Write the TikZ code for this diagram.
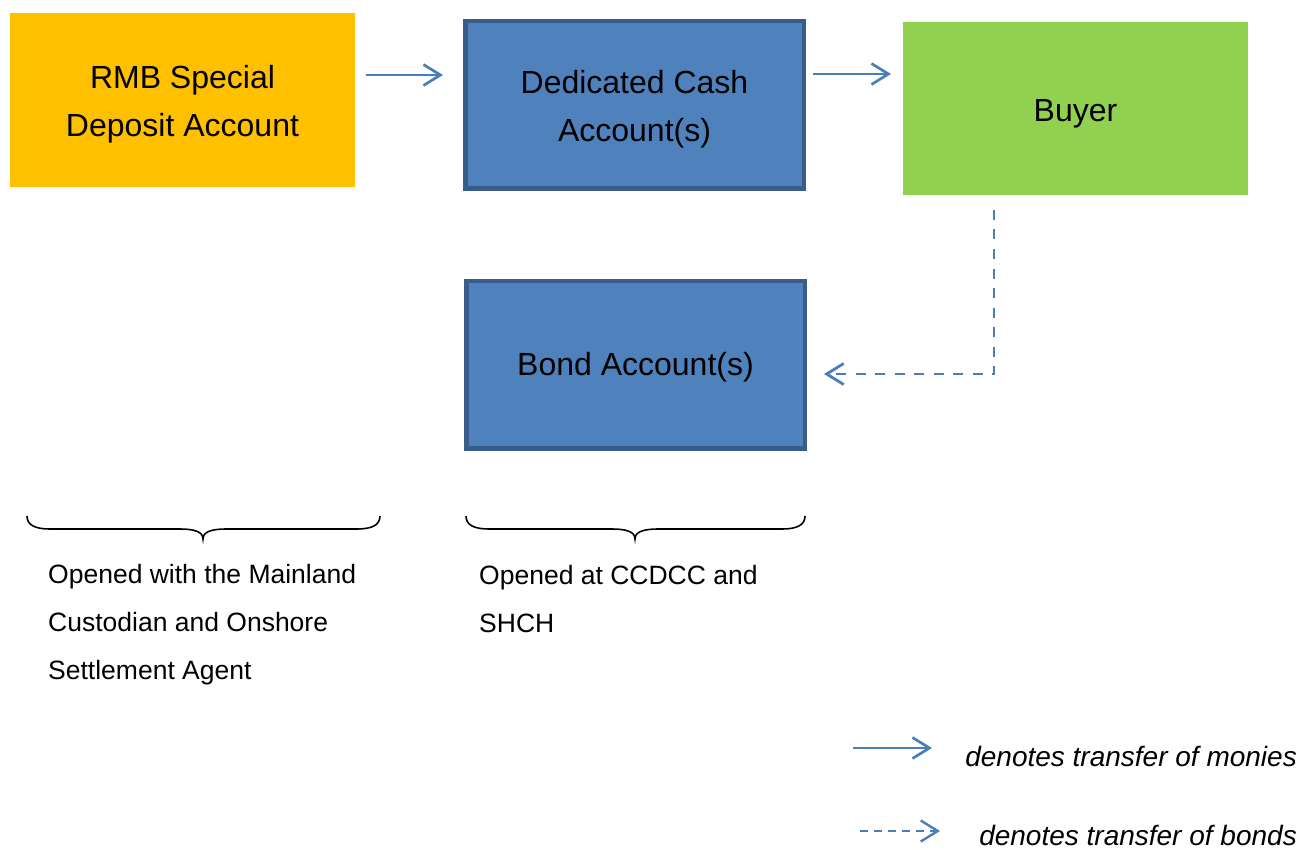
\documentclass[tikz,border=0pt]{standalone}
\usepackage{fontspec}
\setmainfont{Liberation Sans}
\usetikzlibrary{arrows.meta}
\definecolor{orangeA}{HTML}{FFC000}
\definecolor{blueFill}{HTML}{4F81BD}
\definecolor{blueEdge}{HTML}{385D8A}
\definecolor{greenA}{HTML}{92D050}
\definecolor{arrowBlue}{HTML}{4A7EBB}
\tikzset{
  boxtext/.style={font=\fontsize{32}{48}\selectfont, align=center, text=black},
  intext/.style={label={[boxtext, yshift=-4.5pt]center:{#1}}},
  plainbox/.style={draw=none, inner sep=0pt, outer sep=0pt},
  bluebox/.style={fill=blueFill, draw=blueEdge, line width=4.5pt, inner sep=0pt,
     minimum width=338.5pt, minimum height=167.5pt},
  money/.style={draw=arrowBlue, line width=2.7pt, -{Straight Barb[length=17pt,width=21pt]}},
  bonds/.style={money, line width=2.8pt, dash pattern=on 10pt off 9.5pt},
  legbonds/.style={money, line width=2.4pt, dash pattern=on 8pt off 6pt},
  note/.style={font=\fontsize{26.5}{48}\selectfont, anchor=base west, inner sep=0pt},
  legend/.style={font=\fontsize{28}{34}\selectfont\itshape, anchor=base east, inner sep=0pt},
  bracepath/.style={draw=black, line width=1.6pt}
}
\begin{document}
\begin{tikzpicture}[x=1pt,y=-1pt]
\useasboundingbox (0,0) rectangle (1300,850);
% boxes
\node[plainbox, fill=orangeA, minimum width=345pt, minimum height=174pt,
  intext={RMB Special\\Deposit Account}] (rmb) at (182.5,100) {};
\node[bluebox, intext={Dedicated Cash\\Account(s)}] (ded) at (634.5,105) {};
\node[plainbox, fill=greenA, minimum width=345pt, minimum height=173pt,
  label={[boxtext, yshift=-5.5pt]center:Buyer}] (buyer) at (1075.5,108.5) {};
\node[bluebox, label={[boxtext, yshift=-3pt]center:Bond Account(s)}] (bond) at (635.5,364.5) {};
% connectors
\draw[money, shorten <=11pt, shorten >=20pt] (rmb.east |- 0,75) -- (ded.west |- 0,75);
\draw[money, shorten <=7pt, shorten >=12pt] (ded.east |- 0,74) -- (buyer.west |- 0,74);
\draw[bonds, shorten <=15pt, shorten >=17pt] (buyer.south -| 994,0) |- (bond.east |- 0,374);
% braces
\draw[bracepath] (27,516) .. controls (27,525) and (35,529) .. (50,529) -- (180,529)
  .. controls (195,529) and (203,532) .. (203,539)
  .. controls (203,532) and (211,529) .. (226,529) -- (357,529)
  .. controls (372,529) and (380,525) .. (380,516);
\draw[bracepath] (466,516) .. controls (466,525) and (474,529) .. (489,529) -- (612,529)
  .. controls (627,529) and (635,532) .. (635,539)
  .. controls (635,532) and (643,529) .. (658,529) -- (782,529)
  .. controls (797,529) and (805,525) .. (805,516);
% notes
\node[note] (n1) at (48,583) {Opened with the Mainland};
\node[note] (n2) at (48,631) {Custodian and Onshore};
\node[note] (n3) at (48,679) {Settlement Agent};
\node[note] (n4) at (479,584) {Opened at CCDCC and};
\node[note] (n5) at (479,632) {SHCH};
% legend
\coordinate (la) at (853,748);
\coordinate (lb) at (932,748);
\coordinate (lc) at (860,831);
\coordinate (ld) at (940,831);
\draw[money] (la) -- (lb);
\draw[legbonds] (lc) -- (ld);
\node[legend] (t1) at (1297,766) {denotes transfer of monies};
\node[legend] (t2) at (1297,845) {denotes transfer of bonds};
\end{tikzpicture}
\end{document}
